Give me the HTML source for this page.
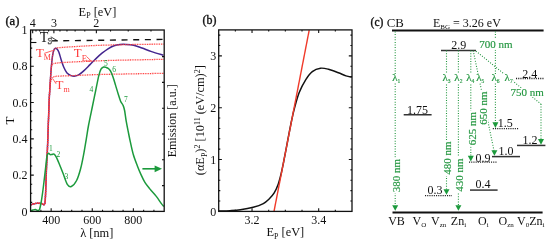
<!DOCTYPE html>
<html><head><meta charset="utf-8"><title>Figure</title>
<style>
html,body{margin:0;padding:0;background:#fff;}
body{width:550px;height:245px;overflow:hidden;}
svg{display:block;font-family:"Liberation Serif", serif;will-change:transform;}
</style></head><body>

<svg width="550" height="245" viewBox="0 0 550 245">
<rect width="550" height="245" fill="#fff"/>
<path d="M51.6,40.9L164,39.4" stroke="#111" stroke-width="1.4" stroke-dasharray="6 5.66" fill="none"/>
<path d="M30.5,205 C31.08,204.8 32.88,204.1 34,203.8 C35.12,203.5 35.9,203.23 37.2,203.2 C38.5,203.17 40.63,203.37 41.8,203.6 C42.97,203.83 43.63,205.03 44.2,204.6 C44.77,204.17 44.92,204.27 45.2,201 C45.48,197.73 45.67,191 45.9,185 C46.13,179 46.35,170.83 46.6,165 C46.85,159.17 47.12,156.67 47.4,150 C47.68,143.33 48,133.33 48.3,125 C48.6,116.67 48.9,106.67 49.2,100 C49.5,93.33 49.83,89.33 50.1,85 C50.37,80.67 50.55,77.5 50.8,74 C51.05,70.5 51.3,67.08 51.6,64 C51.9,60.92 52.23,57.78 52.6,55.5 C52.97,53.22 53.32,51.52 53.8,50.3 C54.28,49.08 54.93,48.38 55.5,48.2 C56.07,48.02 56.63,48.53 57.2,49.2 C57.77,49.87 58.22,50.37 58.9,52.2 C59.58,54.03 60.48,57.68 61.3,60.2 C62.12,62.72 62.85,65.17 63.8,67.3 C64.75,69.43 65.78,71.62 67,73 C68.22,74.38 69.77,75.08 71.1,75.6 C72.43,76.12 73.68,76.27 75,76.1 C76.32,75.93 77.5,75.52 79,74.6 C80.5,73.68 82.17,72.27 84,70.6 C85.83,68.93 88,66.6 90,64.6 C92,62.6 94,60.5 96,58.6 C98,56.7 100,54.83 102,53.2 C104,51.57 106,50.03 108,48.8 C110,47.57 112,46.52 114,45.8 C116,45.08 118,44.73 120,44.5 C122,44.27 123.73,44.28 126,44.4 C128.27,44.52 130.93,44.6 133.6,45.2 C136.27,45.8 139,46.93 142,48 C145,49.07 148.02,50.4 151.6,51.6 C155.18,52.8 161.52,54.6 163.5,55.2" fill="none" stroke="#44258e" stroke-width="1.5"/>
<path d="M30.5,205 C31.08,204.8 32.88,204.1 34,203.8 C35.12,203.5 35.9,203.23 37.2,203.2 C38.5,203.17 40.63,203.37 41.8,203.6 C42.97,203.83 43.63,205.03 44.2,204.6 C44.77,204.17 44.92,204.27 45.2,201 C45.48,197.73 45.67,191 45.9,185 C46.13,179 46.35,170.83 46.6,165 C46.85,159.17 47.12,156.67 47.4,150 C47.68,143.33 48,133.33 48.3,125 C48.6,116.67 48.92,106.5 49.2,100 C49.48,93.5 49.7,89.25 50,86 C50.3,82.75 50.57,81.9 51,80.5 C51.43,79.1 51.77,78.3 52.6,77.6 C53.43,76.9 53.93,76.58 56,76.3 C58.07,76.02 61,76.07 65,75.9 C69,75.73 74.17,75.53 80,75.3 C85.83,75.07 91.67,74.73 100,74.5 C108.33,74.27 119.33,74.1 130,73.9 C140.67,73.7 158.33,73.4 164,73.3" fill="none" stroke="#ff3b3b" stroke-width="1.3" stroke-dasharray="0.95 0.75"/>
<path d="M30.5,205 C31.08,204.8 32.88,204.1 34,203.8 C35.12,203.5 35.9,203.23 37.2,203.2 C38.5,203.17 40.63,203.37 41.8,203.6 C42.97,203.83 43.63,205.03 44.2,204.6 C44.77,204.17 44.92,204.27 45.2,201 C45.48,197.73 45.67,191 45.9,185 C46.13,179 46.35,170.83 46.6,165 C46.85,159.17 47.12,156.67 47.4,150 C47.68,143.33 48,133.33 48.3,125 C48.6,116.67 48.9,106.67 49.2,100 C49.5,93.33 49.83,89.33 50.1,85 C50.37,80.67 50.58,76.92 50.8,74 C51.02,71.08 51.12,69.12 51.4,67.5 C51.68,65.88 51.73,65.02 52.5,64.3 C53.27,63.58 53.92,63.52 56,63.2 C58.08,62.88 59.33,62.73 65,62.4 C70.67,62.07 81.67,61.55 90,61.2 C98.33,60.85 106.67,60.53 115,60.3 C123.33,60.07 131.83,59.97 140,59.8 C148.17,59.63 160,59.38 164,59.3" fill="none" stroke="#ff3b3b" stroke-width="1.3" stroke-dasharray="0.95 0.75"/>
<path d="M30.5,205 C31.08,204.8 32.88,204.1 34,203.8 C35.12,203.5 35.9,203.23 37.2,203.2 C38.5,203.17 40.63,203.37 41.8,203.6 C42.97,203.83 43.63,205.03 44.2,204.6 C44.77,204.17 44.92,204.27 45.2,201 C45.48,197.73 45.67,191 45.9,185 C46.13,179 46.35,170.83 46.6,165 C46.85,159.17 47.12,156.67 47.4,150 C47.68,143.33 48,133.33 48.3,125 C48.6,116.67 48.9,106.67 49.2,100 C49.5,93.33 49.83,89.33 50.1,85 C50.37,80.67 50.55,77.5 50.8,74 C51.05,70.5 51.3,67.08 51.6,64 C51.9,60.92 52.23,57.78 52.6,55.5 C52.97,53.22 53.32,51.48 53.8,50.3 C54.28,49.12 54.47,48.85 55.5,48.4 C56.53,47.95 56.75,47.9 60,47.6 C63.25,47.3 69.17,46.95 75,46.6 C80.83,46.25 88.33,45.78 95,45.5 C101.67,45.22 107.5,45.08 115,44.9 C122.5,44.72 131.83,44.53 140,44.4 C148.17,44.27 160,44.15 164,44.1" fill="none" stroke="#ff3b3b" stroke-width="1.3" stroke-dasharray="0.95 0.75"/>
<path d="M30.5,210.9 C30.92,210.75 32.18,210.22 33,210 C33.82,209.78 34.55,209.52 35.4,209.6 C36.25,209.68 37.4,210.57 38.1,210.5 C38.8,210.43 39.08,210.62 39.6,209.2 C40.12,207.78 40.68,204.87 41.2,202 C41.72,199.13 42.18,195.83 42.7,192 C43.22,188.17 43.78,183.33 44.3,179 C44.82,174.67 45.35,169.83 45.8,166 C46.25,162.17 46.55,158.13 47,156 C47.45,153.87 47.97,153.43 48.5,153.2 C49.03,152.97 49.62,154.4 50.2,154.6 C50.78,154.8 51.35,154.47 52,154.4 C52.65,154.33 53.38,153.75 54.1,154.2 C54.82,154.65 55.37,155.3 56.3,157.1 C57.23,158.9 58.53,162.18 59.7,165 C60.87,167.82 62.03,170.78 63.3,174 C64.57,177.22 65.97,182.22 67.3,184.3 C68.63,186.38 69.75,187.13 71.3,186.5 C72.85,185.87 75.05,183.45 76.6,180.5 C78.15,177.55 79.42,173.18 80.6,168.8 C81.78,164.42 82.73,159.28 83.7,154.2 C84.67,149.12 85.58,143.17 86.4,138.3 C87.22,133.43 87.6,130.3 88.6,125 C89.6,119.7 91.25,112.08 92.4,106.5 C93.55,100.92 94.43,96.65 95.5,91.5 C96.57,86.35 97.88,79.32 98.8,75.6 C99.72,71.88 100.2,70.63 101,69.2 C101.8,67.77 102.75,67.3 103.6,67 C104.45,66.7 105.3,67.15 106.1,67.4 C106.9,67.65 107.65,67.87 108.4,68.5 C109.15,69.13 109.83,69.8 110.6,71.2 C111.37,72.6 112.17,74.53 113,76.9 C113.83,79.27 114.73,82.55 115.6,85.4 C116.47,88.25 117.37,91.37 118.2,94 C119.03,96.63 119.77,99.27 120.6,101.2 C121.43,103.13 122.53,104.05 123.2,105.6 C123.87,107.15 124.08,107.82 124.6,110.5 C125.12,113.18 125.63,117.87 126.3,121.7 C126.97,125.53 127.92,130.08 128.6,133.5 C129.28,136.92 129.62,138.7 130.4,142.2 C131.18,145.7 132.15,150.58 133.3,154.5 C134.45,158.42 136.02,162.35 137.3,165.7 C138.58,169.05 139.73,171.82 141,174.6 C142.27,177.38 143.43,180.02 144.9,182.4 C146.37,184.78 147.9,186.57 149.8,188.9 C151.7,191.23 154.4,193.98 156.3,196.4 C158.2,198.82 159.95,201.73 161.2,203.4 C162.45,205.07 163.37,205.9 163.8,206.4" fill="none" stroke="#1c9a3c" stroke-width="1.5"/>
<rect x="30.6" y="30" width="133.6" height="181.4" fill="none" stroke="#111" stroke-width="1.3"/>
<path d="M30.6,202.33h1.6 M30.6,193.26h1.6 M30.6,184.19h1.6 M30.6,175.12h3.2 M30.6,166.05h1.6 M30.6,156.98h1.6 M30.6,147.91h1.6 M30.6,138.84h3.2 M30.6,129.77h1.6 M30.6,120.7h1.6 M30.6,111.63h1.6 M30.6,102.56h3.2 M30.6,93.49h1.6 M30.6,84.42h1.6 M30.6,75.35h1.6 M30.6,66.28h3.2 M30.6,57.21h1.6 M30.6,48.14h1.6 M30.6,39.07h1.6 M164.2,185.6h-2.2 M164.2,159.8h-2.2 M164.2,134h-2.2 M164.2,108.2h-2.2 M164.2,82.4h-2.2 M164.2,56.6h-2.2 M40.88,211.4v-1.6 M51.15,211.4v-3.2 M61.43,211.4v-1.6 M71.71,211.4v-1.6 M81.98,211.4v-1.6 M92.26,211.4v-3.2 M102.54,211.4v-1.6 M112.82,211.4v-1.6 M123.09,211.4v-1.6 M133.37,211.4v-3.2 M143.65,211.4v-1.6 M153.92,211.4v-1.6 M32.66,30v3.2 M36.01,30v1.6 M39.74,30v1.6 M43.9,30v1.6 M48.58,30v1.6 M53.89,30v3.2 M59.96,30v1.6 M66.96,30v1.6 M75.13,30v1.6 M84.79,30v1.6 M96.37,30v3.2 M110.53,30v1.6 M128.23,30v1.6 M150.99,30v1.6" stroke="#111" stroke-width="1.1" fill="none"/>
<g font-size="12" fill="#111" text-anchor="end">
<text x="27.6" y="215.5">0</text>
<text x="27.6" y="179.22">0.2</text>
<text x="27.6" y="142.94">0.4</text>
<text x="27.6" y="106.66">0.6</text>
<text x="27.6" y="70.38">0.8</text>
<text x="27.6" y="34.1">1</text>
</g>
<g font-size="12" fill="#111" text-anchor="middle">
<text x="51.15" y="223.6">400</text>
<text x="92.26" y="223.6">600</text>
<text x="133.37" y="223.6">800</text>
<text x="32.66" y="27">4</text>
<text x="53.89" y="27">3</text>
<text x="96.37" y="27">2</text>
</g>
<text x="80.2" y="237.4" font-size="12.4" fill="#111">λ [nm]</text>
<text x="78.6" y="15.6" font-size="12.4" fill="#111">E<tspan font-size="8" dy="2.6">P</tspan><tspan dy="-2.6"> [eV]</tspan></text>
<text x="5.4" y="25.2" font-size="12.6" fill="#111" stroke="#111" stroke-width="0.35">(a)</text>
<text transform="translate(13.9,120.6) rotate(-90)" font-size="13" fill="#111" text-anchor="middle">T</text>
<text transform="translate(176.3,120.8) rotate(-90)" font-size="12" fill="#111" text-anchor="middle">Emission [a.u.]</text>
<text x="39.8" y="42.2" font-size="14" fill="#111">T</text>
<text x="47.5" y="43.7" font-size="8.6" fill="#fff" stroke="#222" stroke-width="0.45">S</text>
<path d="M50.8,36.8L57.6,40.9" stroke="#111" stroke-width="0.8" fill="none"/>
<path d="M30.8,42.5H36.4" stroke="#111" stroke-width="1.1"/>
<text x="35.9" y="57.1" font-size="12.8" fill="#ff3b3b">T<tspan font-size="8" dy="3.2">M</tspan></text>
<path d="M44.2,53.4L52.8,50.5" stroke="#ff3b3b" stroke-width="0.8"/>
<text x="73.8" y="56.7" font-size="12.8" fill="#ff3b3b">T<tspan font-size="8.5" dy="4.4">E</tspan></text>
<path d="M86.4,56.4L91.3,61.1H86" stroke="#ff3b3b" stroke-width="0.8" fill="none"/>
<text x="55.5" y="89.1" font-size="13" fill="#ff3b3b">T<tspan font-size="8" dy="3.2">m</tspan></text>
<path d="M52.9,78.9L56.1,83.8" stroke="#ff3b3b" stroke-width="0.8"/>
<g font-size="7.5" fill="#1c9a3c">
<text x="49" y="151.4">1</text>
<text x="56.4" y="157.2">2</text>
<text x="64.6" y="179.4">3</text>
<text x="89.4" y="91.8">4</text>
<text x="103.9" y="66.2">5</text>
<text x="112.3" y="71.6">6</text>
<text x="123.9" y="102.2">7</text>
</g>
<path d="M142.4,168.8H156" stroke="#1c9a3c" stroke-width="1.6"/>
<path d="M154.6,165.4L162,168.8L154.6,172.2Z" fill="#1c9a3c"/>
<path d="M218.7,211.1 C220.58,211.03 226.38,210.92 230,210.7 C233.62,210.48 236.53,210.37 240.4,209.8 C244.27,209.23 249.38,208.33 253.2,207.3 C257.02,206.27 260.65,204.98 263.3,203.6 C265.95,202.22 267.28,200.78 269.1,199 C270.92,197.22 272.67,195.42 274.2,192.9 C275.73,190.38 277.13,187.13 278.3,183.9 C279.47,180.67 280.32,177.15 281.2,173.5 C282.08,169.85 282.5,167.58 283.6,162 C284.7,156.42 286.48,146.83 287.8,140 C289.12,133.17 290.42,126.2 291.5,121 C292.58,115.8 293.02,113.55 294.3,108.8 C295.58,104.05 297.28,97.37 299.2,92.5 C301.12,87.63 303.62,83.08 305.8,79.6 C307.98,76.12 309.85,73.5 312.3,71.6 C314.75,69.7 317.78,68.58 320.5,68.2 C323.22,67.82 325.62,68.53 328.6,69.3 C331.58,70.07 335.5,71.7 338.4,72.8 C341.3,73.9 343.73,75.18 346,75.9 C348.27,76.62 351,76.9 352,77.1" fill="none" stroke="#111" stroke-width="1.5"/>
<path d="M274,211.4L309.2,30.2" stroke="#f03a2a" stroke-width="1.4"/>
<rect x="218.7" y="29.9" width="133.3" height="181.5" fill="none" stroke="#111" stroke-width="1.3"/>
<path d="M218.7,201.03h1.6 M352,201.03h-1.6 M218.7,190.66h1.6 M352,190.66h-1.6 M218.7,180.29h1.6 M352,180.29h-1.6 M218.7,169.91h1.6 M352,169.91h-1.6 M218.7,159.54h3.2 M352,159.54h-3.2 M218.7,149.17h1.6 M352,149.17h-1.6 M218.7,138.8h1.6 M352,138.8h-1.6 M218.7,128.43h1.6 M352,128.43h-1.6 M218.7,118.06h1.6 M352,118.06h-1.6 M218.7,107.69h3.2 M352,107.69h-3.2 M218.7,97.31h1.6 M352,97.31h-1.6 M218.7,86.94h1.6 M352,86.94h-1.6 M218.7,76.57h1.6 M352,76.57h-1.6 M218.7,66.2h1.6 M352,66.2h-1.6 M218.7,55.83h3.2 M352,55.83h-3.2 M218.7,45.46h1.6 M352,45.46h-1.6 M218.7,35.09h1.6 M352,35.09h-1.6 M235.36,211.4v-1.6 M235.36,29.9v1.6 M252.03,211.4v-3.2 M252.03,29.9v3.2 M268.69,211.4v-1.6 M268.69,29.9v1.6 M285.35,211.4v-1.6 M285.35,29.9v1.6 M302.01,211.4v-1.6 M302.01,29.9v1.6 M318.68,211.4v-3.2 M318.68,29.9v3.2 M335.34,211.4v-1.6 M335.34,29.9v1.6" stroke="#111" stroke-width="1.1" fill="none"/>
<g font-size="12" fill="#111" text-anchor="end">
<text x="216.2" y="215.5">0</text>
<text x="216.2" y="163.64">1</text>
<text x="216.2" y="111.79">2</text>
<text x="216.2" y="59.93">3</text>
</g>
<g font-size="12" fill="#111" text-anchor="middle">
<text x="252.03" y="223.6">3.2</text>
<text x="318.67" y="223.6">3.4</text>
</g>
<text x="266.4" y="236" font-size="12.4" fill="#111">E<tspan font-size="8" dy="2.6">P</tspan><tspan dy="-2.6"> [eV]</tspan></text>
<text x="202.6" y="23.9" font-size="11.9" fill="#111" stroke="#111" stroke-width="0.35">(b)</text>
<text transform="translate(204.2,120.2) rotate(-90)" font-size="12.3" fill="#111" text-anchor="middle">(αE<tspan font-size="8" dy="2.4">P</tspan><tspan dy="-2.4">)</tspan><tspan font-size="8" dy="-4.4">2</tspan><tspan dy="4.4"> [10</tspan><tspan font-size="8" dy="-4.4">11</tspan><tspan dy="4.4"> (eV/cm)</tspan><tspan font-size="8" dy="-4.4">2</tspan><tspan dy="4.4">]</tspan></text>
<text x="370.6" y="26.0" font-size="11.5" fill="#111" stroke="#111" stroke-width="0.35">(c)</text>
<text x="386.7" y="27.1" font-size="12.8" fill="#111">CB</text>
<text x="433" y="26.8" font-size="12" fill="#111">E<tspan font-size="7" dy="1.8">BG</tspan><tspan dy="-1.8"> = 3.26 eV</tspan></text>
<path d="M392,30.5H543.6M392.5,212.4H542.6" stroke="#111" stroke-width="2"/>
<path d="M441,50.59H476" stroke="#333" stroke-width="1.5"/>
<text x="451.2" y="48.99" font-size="12" fill="#111">2.9</text>
<path d="M516,78.49H544" stroke="#222" stroke-width="1.3" stroke-dasharray="1.1 1.1"/>
<text x="522.3" y="78.19" font-size="12" fill="#111">2.4</text>
<path d="M403.7,114.75H431.6" stroke="#333" stroke-width="1.5"/>
<text x="407" y="113.95" font-size="12" fill="#111">1.75</text>
<path d="M492.8,128.7H518.6" stroke="#222" stroke-width="1.3" stroke-dasharray="1.1 1.1"/>
<text x="497.8" y="127.4" font-size="12" fill="#111">1.5</text>
<path d="M517,145.44H545.4" stroke="#333" stroke-width="1.5"/>
<text x="522.4" y="144.44" font-size="12" fill="#111">1.2</text>
<path d="M492,156.6H520" stroke="#333" stroke-width="1.5"/>
<text x="498.6" y="155" font-size="12" fill="#111">1.0</text>
<path d="M469,162.18H497.6" stroke="#222" stroke-width="1.3" stroke-dasharray="1.1 1.1"/>
<text x="475.5" y="161.88" font-size="12" fill="#111">0.9</text>
<path d="M470,190.08H497.6" stroke="#333" stroke-width="1.5"/>
<text x="475.5" y="188.38" font-size="12" fill="#111">0.4</text>
<path d="M425,195.66H452" stroke="#222" stroke-width="1.3" stroke-dasharray="1.1 1.1"/>
<text x="427.5" y="193.76" font-size="12" fill="#111">0.3</text>
<path d="M395.2,31.5L395.2,205" stroke="#22963f" stroke-width="1.1" stroke-dasharray="1 1.6"/>
<path d="M392.2,205.2L398.2,205.2L395.2,210.8Z" fill="#1c9a3c"/>
<path d="M446.5,50.59L446.5,190.66" stroke="#22963f" stroke-width="1.1" stroke-dasharray="1 1.6"/>
<path d="M443.5,189.26L449.5,189.26L446.5,194.86Z" fill="#1c9a3c"/>
<path d="M458.4,50.59L458.4,206" stroke="#22963f" stroke-width="1.1" stroke-dasharray="1 1.6"/>
<path d="M455.4,205.2L461.4,205.2L458.4,210.8Z" fill="#1c9a3c"/>
<path d="M470.8,50.59L470.8,157.18" stroke="#22963f" stroke-width="1.1" stroke-dasharray="1 1.6"/>
<path d="M467.8,155.78L473.8,155.78L470.8,161.38Z" fill="#1c9a3c"/>
<path d="M473.2,50.59L494.2,151.6" stroke="#22963f" stroke-width="1.1" stroke-dasharray="1 1.6"/>
<path d="M491.4,150.2L497.4,150.2L494.4,155.8Z" fill="#1c9a3c"/>
<path d="M495.4,31.5L495.4,123.7" stroke="#22963f" stroke-width="1.1" stroke-dasharray="1 1.6"/>
<path d="M492.4,122.3L498.4,122.3L495.4,127.9Z" fill="#1c9a3c"/>
<path d="M476,51.09L541,104" stroke="#22963f" stroke-width="1.1" stroke-dasharray="1 1.6"/>
<path d="M541,104L541,140.44" stroke="#22963f" stroke-width="1.1" stroke-dasharray="1 1.6"/>
<path d="M538,139.04L544,139.04L541,144.64Z" fill="#1c9a3c"/>
<rect x="391.6" y="74" width="9" height="9" fill="#fff"/>
<text x="392.2" y="80.8" font-size="11" fill="#22963f" stroke="#22963f" stroke-width="0.2">λ<tspan font-size="5.5" dy="1.8" stroke-width="0.15">1</tspan></text>
<rect x="441.8" y="74" width="9" height="9" fill="#fff"/>
<text x="442.4" y="80.8" font-size="11" fill="#22963f" stroke="#22963f" stroke-width="0.2">λ<tspan font-size="5.5" dy="1.8" stroke-width="0.15">3</tspan></text>
<rect x="453.7" y="74" width="9" height="9" fill="#fff"/>
<text x="454.3" y="80.8" font-size="11" fill="#22963f" stroke="#22963f" stroke-width="0.2">λ<tspan font-size="5.5" dy="1.8" stroke-width="0.15">2</tspan></text>
<rect x="465.6" y="74" width="9" height="9" fill="#fff"/>
<text x="466.2" y="80.8" font-size="11" fill="#22963f" stroke="#22963f" stroke-width="0.2">λ<tspan font-size="5.5" dy="1.8" stroke-width="0.15">4</tspan></text>
<rect x="475.6" y="74" width="9" height="9" fill="#fff"/>
<text x="476.2" y="80.8" font-size="11" fill="#22963f" stroke="#22963f" stroke-width="0.2">λ<tspan font-size="5.5" dy="1.8" stroke-width="0.15">5</tspan></text>
<rect x="490.9" y="74" width="9" height="9" fill="#fff"/>
<text x="491.5" y="80.8" font-size="11" fill="#22963f" stroke="#22963f" stroke-width="0.2">λ<tspan font-size="5.5" dy="1.8" stroke-width="0.15">6</tspan></text>
<rect x="504" y="74" width="9" height="9" fill="#fff"/>
<text x="504.6" y="80.8" font-size="11" fill="#22963f" stroke="#22963f" stroke-width="0.2">λ<tspan font-size="5.5" dy="1.8" stroke-width="0.15">7</tspan></text>
<g transform="translate(396.4,175.5) rotate(-90)"><rect x="-18" y="-4.6" width="36" height="9.2" fill="#fff"/><text x="0" y="3.6" font-size="11" fill="#22963f" stroke="#22963f" stroke-width="0.15" text-anchor="middle">380 nm</text></g>
<g transform="translate(447.6,158.2) rotate(-90)"><rect x="-18" y="-4.6" width="36" height="9.2" fill="#fff"/><text x="0" y="3.6" font-size="11" fill="#22963f" stroke="#22963f" stroke-width="0.15" text-anchor="middle">480 nm</text></g>
<g transform="translate(459.6,175) rotate(-90)"><rect x="-18" y="-4.6" width="36" height="9.2" fill="#fff"/><text x="0" y="3.6" font-size="11" fill="#22963f" stroke="#22963f" stroke-width="0.15" text-anchor="middle">430 nm</text></g>
<g transform="translate(472,128.5) rotate(-90)"><rect x="-18" y="-4.6" width="36" height="9.2" fill="#fff"/><text x="0" y="3.6" font-size="11" fill="#22963f" stroke="#22963f" stroke-width="0.15" text-anchor="middle">625 nm</text></g>
<g transform="translate(483.4,108) rotate(-90)"><rect x="-18" y="-4.6" width="36" height="9.2" fill="#fff"/><text x="0" y="3.6" font-size="11" fill="#22963f" stroke="#22963f" stroke-width="0.15" text-anchor="middle">650 nm</text></g>
<rect x="479" y="38.2" width="33" height="11.6" fill="#fff"/>
<text x="479.2" y="48" font-size="11" fill="#22963f" stroke="#22963f" stroke-width="0.15">700 nm</text>
<rect x="510.5" y="88" width="33.5" height="9" fill="#fff"/>
<text x="510.6" y="96.3" font-size="11" fill="#22963f" stroke="#22963f" stroke-width="0.15">750 nm</text>
<g font-size="12" fill="#111">
<text x="388.2" y="224.6">VB</text>
<text x="412.6" y="224.6">V<tspan font-size="7" dy="2">O</tspan></text>
<text x="431" y="224.6">V<tspan font-size="7" dy="2">zn</tspan></text>
<text x="450.8" y="224.6">Zn<tspan font-size="7" dy="2">i</tspan></text>
<text x="478" y="224.6">O<tspan font-size="7" dy="2">i</tspan></text>
<text x="498.6" y="224.6">O<tspan font-size="7" dy="2">zn</tspan></text>
<text x="517" y="224.6">V<tspan font-size="7" dy="2">0</tspan><tspan dy="-2">Zn</tspan><tspan font-size="7" dy="2">i</tspan></text>
</g>
</svg>
</body></html>
